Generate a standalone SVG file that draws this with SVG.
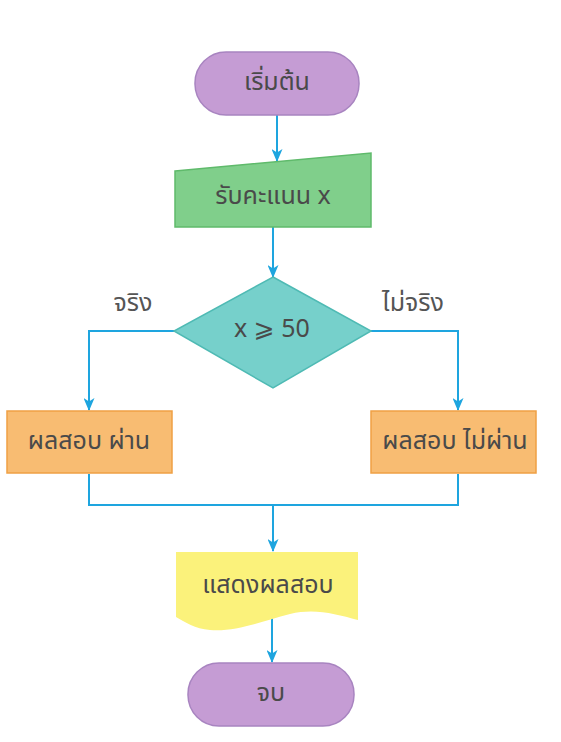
<svg xmlns="http://www.w3.org/2000/svg" width="561" height="742" viewBox="0 0 561 742">
<style>
.t{font-family:"Noto Sans Thai","Loma","Garuda","Tlwg Typo","DejaVu Sans","Noto Sans",sans-serif;font-size:25px;fill:#4a4a4a;text-anchor:middle;dominant-baseline:central}
.lbl{font-size:25px;fill:#555}
.c{fill:none;stroke:#1ea5df;stroke-width:2}
.term{fill:#c59cd4;stroke:#a884c0;stroke-width:1.5}
</style>
<defs>
<marker id="ah" viewBox="0 0 13 11" refX="12" refY="5.5" markerWidth="13" markerHeight="11" orient="auto" markerUnits="userSpaceOnUse">
<path d="M0,0 L13,5.5 L0,11 L3.5,5.5 Z" fill="#1ea5df"/>
</marker>
</defs>
<rect width="561" height="742" fill="#fff"/>
<g id="connectors">
<path class="c" d="M277,115 V161" marker-end="url(#ah)"/>
<path class="c" d="M273,227 V277" marker-end="url(#ah)"/>
<path class="c" d="M174,331 H89 V410" marker-end="url(#ah)"/>
<path class="c" d="M371,331 H458 V410" marker-end="url(#ah)"/>
<path class="c" d="M89,474 V505 H458 V474"/>
<path class="c" d="M273,505 V551" marker-end="url(#ah)"/>
<path class="c" d="M272,617 V662" marker-end="url(#ah)"/>
</g>
<g id="start">
<rect class="term" x="195" y="52" width="164" height="63" rx="31"/>
<text class="t" x="277" y="82">เริ่มต้น</text>
</g>
<g id="input">
<polygon points="175,171 371,153 371,227 175,227" fill="#80cf8b" stroke="#5fba6b" stroke-width="1.5"/>
<text class="t" x="273" y="196">รับคะแนน x</text>
</g>
<g id="decision">
<polygon points="273,277 371,331 273,388 174,331" fill="#76d0cb" stroke="#4fbab4" stroke-width="1.5"/>
<text class="t" x="272" y="329">x ⩾ 50</text>
</g>
<g id="label-true">
<text class="t lbl" x="133" y="303">จริง</text>
</g>
<g id="label-false">
<text class="t lbl" x="413" y="303">ไม่จริง</text>
</g>
<g id="pass">
<rect x="7" y="411" width="165" height="62" fill="#f8bc72" stroke="#efa044" stroke-width="1.5"/>
<text class="t" x="89" y="441">ผลสอบ ผ่าน</text>
</g>
<g id="fail">
<rect x="371" y="411" width="165" height="62" fill="#f8bc72" stroke="#efa044" stroke-width="1.5"/>
<text class="t" x="455" y="441">ผลสอบ ไม่ผ่าน</text>
</g>
<g id="output">
<path d="M176,552 H358 V620 C335,614 315,608 290,614 C260,622 235,632 210,630 C195,629 185,622 176,617 Z" fill="#fbf27b"/>
<text class="t" x="268" y="585">แสดงผลสอบ</text>
</g>
<g id="end">
<rect class="term" x="188" y="663" width="166" height="63" rx="31"/>
<text class="t" x="271" y="693">จบ</text>
</g>
</svg>
